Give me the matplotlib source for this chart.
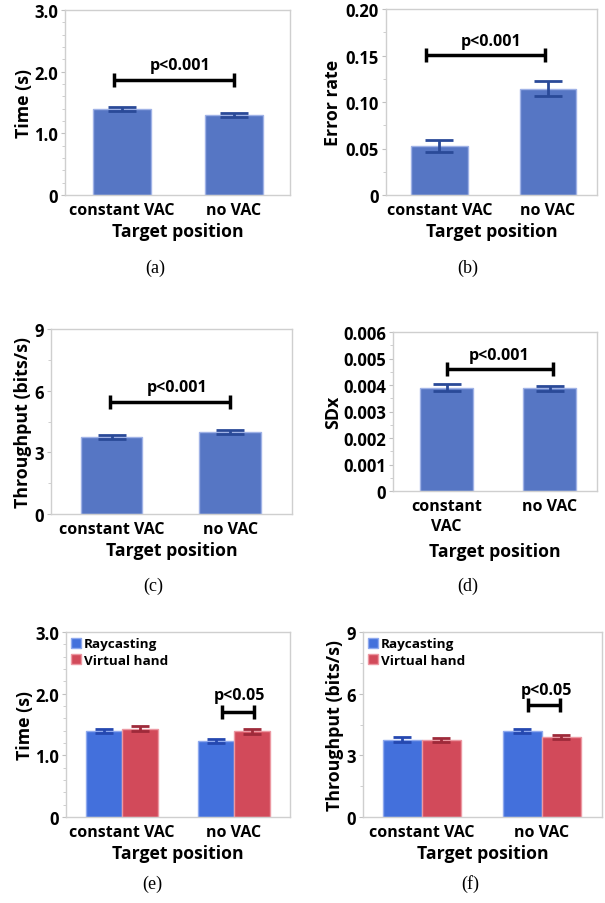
import numpy as np
import matplotlib.pyplot as plt
from matplotlib.ticker import MultipleLocator

plt.rcParams['font.family'] = ['Open Sans', 'DejaVu Sans']
plt.rcParams['font.weight'] = 'bold'

W, H = 605, 904

categories = ['constant VAC', 'no VAC']
categories_wrapped = ['constant\nVAC', 'no VAC']
methods = ['Raycasting', 'Virtual hand']

# single-series panels (mean, error)
time_mean = [1.40, 1.30]
time_err = [0.032, 0.03]
error_mean = [0.053, 0.1145]
error_err = [0.0065, 0.0085]
tp_mean = [3.73, 4.00]
tp_err = [0.09, 0.09]
sdx_mean = [0.00390, 0.00388]
sdx_err = [0.00012, 0.00010]

# grouped panels (Raycasting, Virtual hand)
time_ray = [1.39, 1.23]
time_ray_err = [0.035, 0.027]
time_vh = [1.43, 1.39]
time_vh_err = [0.043, 0.04]
tp_ray = [3.76, 4.20]
tp_ray_err = [0.12, 0.10]
tp_vh = [3.75, 3.88]
tp_vh_err = [0.10, 0.10]

BAR = '#5676c4'
BAR_EDGE = '#9fb2e6'
ERR = '#2a4a98'
BLUE = '#4370dc'
BLUE_EDGE = '#8fa9ee'
RED = '#d24a5a'
RED_EDGE = '#ec98a2'
ERR_RED = '#9e2a3a'


def make_axes(l, t, r, b):
    return fig.add_axes([l / W, 1 - b / H, (r - l) / W, (b - t) / H])


def style(ax, ymax, major, minor, fmt, ylabel, ylab_x, labels=categories):
    px = ax.get_position()
    wpx, hpx = px.width * W, px.height * H
    ax.set_ylim(0, ymax)
    ax.set_xlim(-0.5, 1.5)
    ticks = np.arange(0, ymax + major / 2, major)
    ax.set_yticks(ticks)
    ax.set_yticklabels(['0'] + [fmt.format(v) for v in ticks[1:]])
    ax.yaxis.set_minor_locator(MultipleLocator(minor))
    ax.set_xticks([0, 1])
    ax.set_xticklabels(labels, fontsize=11.5, fontweight='bold', linespacing=1.3)
    for s in ax.spines.values():
        s.set_color('#cfcfcf')
        s.set_linewidth(1)
    ax.tick_params(axis='y', which='major', length=3, color='#c0c0c0', pad=2,
                   labelsize=12)
    ax.tick_params(axis='y', which='minor', length=2, color='#c8c8c8')
    ax.tick_params(axis='x', length=0, pad=5)
    for t in ax.get_yticklabels():
        t.set_fontweight('bold')
    ax.set_ylabel(ylabel, fontsize=12.8, fontweight='bold', va='center')
    ax.yaxis.set_label_coords(ylab_x / wpx, 0.5)
    ax.set_xlabel('Target position', fontsize=12.7, fontweight='bold', va='center')
    return wpx, hpx


def bracket(ax, x1, x2, y, tx, ty, text):
    ax.plot([x1, x2], [y, y], color='black', lw=2.5, marker='|', ms=10,
            mew=2.5, solid_capstyle='butt', clip_on=False)
    ax.text(tx, ty, text, ha='center', va='center', fontsize=11.5,
            fontweight='bold')


def single(ax, mean, err):
    x = np.arange(len(mean))
    ax.bar(x, mean, width=0.52, color=BAR, edgecolor=BAR_EDGE, linewidth=1)
    ax.errorbar(x, mean, yerr=err, fmt='none', ecolor=ERR, elinewidth=2,
                capsize=10, capthick=2)


def grouped(ax, ray, ray_err, vh, vh_err):
    x = np.arange(len(ray))
    w = 0.325
    ax.bar(x - w / 2, ray, width=w, color=BLUE, edgecolor=BLUE_EDGE,
           linewidth=1, label=methods[0])
    ax.bar(x + w / 2, vh, width=w, color=RED, edgecolor=RED_EDGE,
           linewidth=1, label=methods[1])
    ax.errorbar(x - w / 2, ray, yerr=ray_err, fmt='none', ecolor='#2548b0',
                elinewidth=2, capsize=6.5, capthick=2)
    ax.errorbar(x + w / 2, vh, yerr=vh_err, fmt='none', ecolor=ERR_RED,
                elinewidth=2, capsize=6.5, capthick=2)
    ax.legend(loc='upper left', frameon=False, fontsize=9.7,
              handlelength=0.75, handleheight=0.75, handletextpad=0.2,
              borderaxespad=0.2, borderpad=0.2, labelspacing=0.25)


def caption(x, y, s):
    fig.text(x / W, 1 - y / H, s, ha='center', va='center', fontsize=13,
             family='Liberation Serif', fontweight='normal')


fig = plt.figure(figsize=(W / 100, H / 100), dpi=100)

# (a)
ax = make_axes(65, 11, 290, 196)
single(ax, time_mean, time_err)
wpx, hpx = style(ax, 3.0, 1.0, 0.2, '{:.1f}', 'Time (s)', 24 - 65)
ax.set_xlim(-0.51, 1.5)
ax.xaxis.set_label_coords(0.5, -36 / hpx)
bracket(ax, -0.07, 1.0, 1.87, 0.52, 2.11, 'p<0.001')
caption(155, 268, '(a)')

# (b)
ax = make_axes(386, 10, 597, 196)
single(ax, error_mean, error_err)
wpx, hpx = style(ax, 0.20, 0.05, 0.025, '{:.2f}', 'Error rate', 333 - 386)
ax.set_xlim(-0.49, 1.45)
ax.xaxis.set_label_coords(0.5, -36 / hpx)
bracket(ax, -0.12, 0.97, 0.1505, 0.48, 0.166, 'p<0.001')
caption(468, 268, '(b)')

# (c)
ax = make_axes(51, 330, 292, 515)
single(ax, tp_mean, tp_err)
wpx, hpx = style(ax, 9, 3, 1.5, '{:.0f}', 'Throughput (bits/s)', 23 - 51)
ax.set_xlim(-0.51, 1.52)
ax.xaxis.set_label_coords(0.5, -36 / hpx)
bracket(ax, -0.01, 1.0, 5.43, 0.55, 6.2, 'p<0.001')
caption(153, 586, '(c)')

# (d)
ax = make_axes(393, 333, 597, 492)
single(ax, sdx_mean, sdx_err)
wpx, hpx = style(ax, 0.006, 0.001, 0.0005, '{:.3f}', 'SDx', 333 - 393,
                 labels=categories_wrapped)
ax.set_xlim(-0.52, 1.46)
ax.xaxis.set_label_coords(0.5, -60 / hpx)
bracket(ax, 0.0, 1.03, 0.00462, 0.51, 0.00512, 'p<0.001')
caption(468, 586, '(d)')

# (e)
ax = make_axes(66, 633, 290, 818)
grouped(ax, time_ray, time_ray_err, time_vh, time_vh_err)
wpx, hpx = style(ax, 3.0, 1.0, 0.2, '{:.1f}', 'Time (s)', 25 - 66)
ax.xaxis.set_label_coords(0.5, -36 / hpx)
bracket(ax, 0.89, 1.18, 1.71, 1.05, 1.98, 'p<0.05')
caption(152, 884, '(e)')

# (f)
ax = make_axes(363, 633, 602, 818)
grouped(ax, tp_ray, tp_ray_err, tp_vh, tp_vh_err)
wpx, hpx = style(ax, 9, 3, 1.5, '{:.0f}', 'Throughput (bits/s)', 335 - 363)
ax.set_xlim(-0.49, 1.5)
ax.xaxis.set_label_coords(0.5, -36 / hpx)
bracket(ax, 0.88, 1.15, 5.44, 1.04, 6.19, 'p<0.05')
caption(470, 884, '(f)')

fig.savefig('out.png', dpi=100)
